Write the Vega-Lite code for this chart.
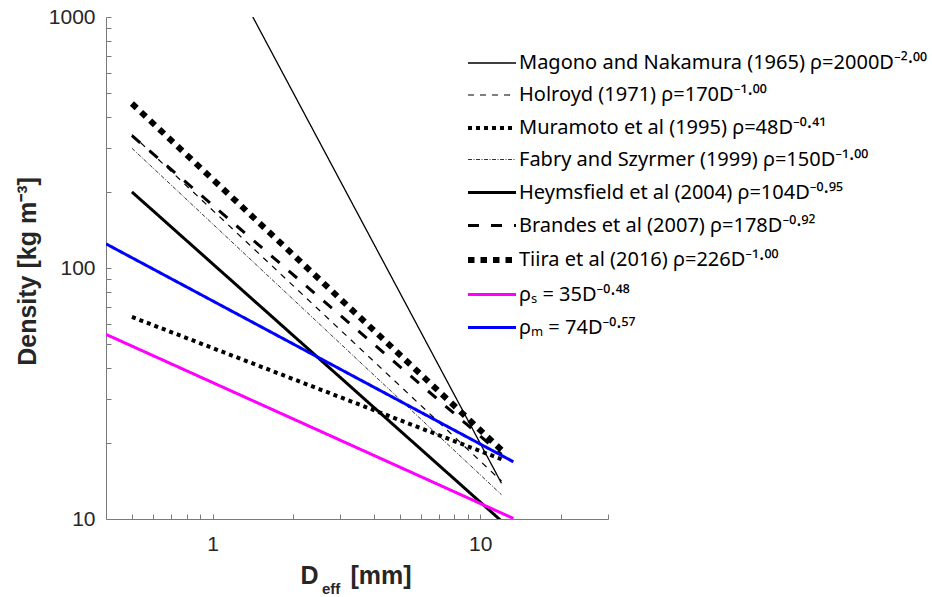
{
  "$schema": "https://vega.github.io/schema/vega-lite/v6.json",
  "width": 502,
  "height": 502,
  "autosize": "none",
  "padding": {"left": 106, "top": 17, "right": 324, "bottom": 78},
  "background": "white",
  "config": {
    "view": {"stroke": null},
    "font": "Liberation Sans",
    "axis": {
      "grid": false,
      "domainColor": "#7a7a7a",
      "tickColor": "#7a7a7a",
      "tickSize": -5,
      "tickWidth": 1,
      "labelFont": "Liberation Sans",
      "labelFontSize": 21,
      "labelColor": "#262626",
      "titleFont": "Liberation Sans",
      "titleFontSize": 25,
      "titleFontWeight": "bold",
      "titleColor": "#262626"
    }
  },
  "title": {
    "text": "eff",
    "orient": "bottom",
    "anchor": "start",
    "frame": "group",
    "dx": 216,
    "offset": -6,
    "fontSize": 15,
    "fontWeight": "bold",
    "font": "Liberation Sans",
    "color": "#262626"
  },
  "data": {
    "values": [
      {"series": "Magono and Nakamura (1965) ρ=2000D⁻²·⁰⁰", "D": 1.414, "rho": 1000},
      {"series": "Magono and Nakamura (1965) ρ=2000D⁻²·⁰⁰", "D": 12, "rho": 13.89},
      {"series": "Holroyd (1971) ρ=170D⁻¹·⁰⁰", "D": 0.5, "rho": 340},
      {"series": "Holroyd (1971) ρ=170D⁻¹·⁰⁰", "D": 12, "rho": 14.17},
      {"series": "Muramoto et al (1995) ρ=48D⁻⁰·⁴¹", "D": 0.5, "rho": 63.8},
      {"series": "Muramoto et al (1995) ρ=48D⁻⁰·⁴¹", "D": 12, "rho": 17.3},
      {"series": "Fabry and Szyrmer (1999) ρ=150D⁻¹·⁰⁰", "D": 0.5, "rho": 300},
      {"series": "Fabry and Szyrmer (1999) ρ=150D⁻¹·⁰⁰", "D": 12, "rho": 12.5},
      {"series": "Heymsfield et al (2004) ρ=104D⁻⁰·⁹⁵", "D": 0.5, "rho": 200.9},
      {"series": "Heymsfield et al (2004) ρ=104D⁻⁰·⁹⁵", "D": 12, "rho": 9.82},
      {"series": "Brandes et al (2007) ρ=178D⁻⁰·⁹²", "D": 0.5, "rho": 336.8},
      {"series": "Brandes et al (2007) ρ=178D⁻⁰·⁹²", "D": 12, "rho": 18.1},
      {"series": "Tiira et al (2016) ρ=226D⁻¹·⁰⁰", "D": 0.5, "rho": 452},
      {"series": "Tiira et al (2016) ρ=226D⁻¹·⁰⁰", "D": 12, "rho": 18.83},
      {"series": "ρₛ = 35D⁻⁰·⁴⁸", "D": 0.4, "rho": 54.4},
      {"series": "ρₛ = 35D⁻⁰·⁴⁸", "D": 13.3, "rho": 10.05},
      {"series": "ρₘ = 74D⁻⁰·⁵⁷", "D": 0.4, "rho": 124.8},
      {"series": "ρₘ = 74D⁻⁰·⁵⁷", "D": 13.3, "rho": 16.9}
    ]
  },
  "mark": {"type": "line", "clip": true, "strokeCap": "butt"},
  "encoding": {
    "x": {
      "field": "D",
      "type": "quantitative",
      "scale": {"type": "log", "domain": [0.4, 30], "nice": false},
      "axis": {
        "values": [0.5, 0.6, 0.7, 0.8, 0.9, 1, 2, 3, 4, 5, 6, 7, 8, 9, 10, 20, 30],
        "labelExpr": "datum.value == 1 || datum.value == 10 ? '' + datum.value : ''",
        "labelPadding": 19,
        "labelBaseline": "top",
        "labelFlush": false,
        "title": "D\u2003 [mm]",
        "titleAlign": "left",
        "titleAnchor": "start",
        "titleX": 194,
        "titleY": 64,
        "titleBaseline": "alphabetic"
      }
    },
    "y": {
      "field": "rho",
      "type": "quantitative",
      "scale": {"type": "log", "domain": [10, 1000], "nice": false},
      "axis": {
        "values": [10, 20, 30, 40, 50, 60, 70, 80, 90, 100, 200, 300, 400, 500, 600, 700, 800, 900, 1000],
        "labelExpr": "datum.value == 10 || datum.value == 100 || datum.value == 1000 ? '' + datum.value : ''",
        "labelPadding": 16,
        "labelFlush": false,
        "title": "Density [kg m⁻³]",
        "titleAngle": -90,
        "titleAlign": "center",
        "titleBaseline": "alphabetic",
        "titleX": -71,
        "titleY": 254
      }
    },
    "color": {
      "field": "series",
      "type": "nominal",
      "scale": {
        "domain": [
          "Magono and Nakamura (1965) ρ=2000D⁻²·⁰⁰",
          "Holroyd (1971) ρ=170D⁻¹·⁰⁰",
          "Muramoto et al (1995) ρ=48D⁻⁰·⁴¹",
          "Fabry and Szyrmer (1999) ρ=150D⁻¹·⁰⁰",
          "Heymsfield et al (2004) ρ=104D⁻⁰·⁹⁵",
          "Brandes et al (2007) ρ=178D⁻⁰·⁹²",
          "Tiira et al (2016) ρ=226D⁻¹·⁰⁰",
          "ρₛ = 35D⁻⁰·⁴⁸",
          "ρₘ = 74D⁻⁰·⁵⁷"
        ],
        "range": ["#000000", "#000000", "#000000", "#000000", "#000000", "#000000", "#000000", "#ff00ff", "#0000ff"]
      },
      "legend": {
        "title": null,
        "orient": "none",
        "legendX": 359,
        "legendY": 33,
        "padding": 0,
        "symbolType": "M-2,0H2",
        "symbolSize": 576,
        "symbolOffset": 12,
        "symbolFillColor": "transparent",
        "labelFontSize": 20,
        "labelFont": "Noto Sans",
        "labelColor": "#000000",
        "labelLimit": 600,
        "labelOffset": 12,
        "rowPadding": 9
      }
    },
    "strokeDash": {
      "field": "series",
      "type": "nominal",
      "scale": {
        "domain": [
          "Magono and Nakamura (1965) ρ=2000D⁻²·⁰⁰",
          "Holroyd (1971) ρ=170D⁻¹·⁰⁰",
          "Muramoto et al (1995) ρ=48D⁻⁰·⁴¹",
          "Fabry and Szyrmer (1999) ρ=150D⁻¹·⁰⁰",
          "Heymsfield et al (2004) ρ=104D⁻⁰·⁹⁵",
          "Brandes et al (2007) ρ=178D⁻⁰·⁹²",
          "Tiira et al (2016) ρ=226D⁻¹·⁰⁰",
          "ρₛ = 35D⁻⁰·⁴⁸",
          "ρₘ = 74D⁻⁰·⁵⁷"
        ],
        "range": [[1, 0], [6, 6], [4, 4], [4, 1.5, 1, 1.5], [1, 0], [11, 12], [6.5, 6], [1, 0], [1, 0]]
      }
    },
    "strokeWidth": {
      "field": "series",
      "type": "ordinal",
      "scale": {
        "type": "ordinal",
        "domain": [
          "Magono and Nakamura (1965) ρ=2000D⁻²·⁰⁰",
          "Holroyd (1971) ρ=170D⁻¹·⁰⁰",
          "Muramoto et al (1995) ρ=48D⁻⁰·⁴¹",
          "Fabry and Szyrmer (1999) ρ=150D⁻¹·⁰⁰",
          "Heymsfield et al (2004) ρ=104D⁻⁰·⁹⁵",
          "Brandes et al (2007) ρ=178D⁻⁰·⁹²",
          "Tiira et al (2016) ρ=226D⁻¹·⁰⁰",
          "ρₛ = 35D⁻⁰·⁴⁸",
          "ρₘ = 74D⁻⁰·⁵⁷"
        ],
        "range": [1.3, 1.2, 4, 0.8, 3, 3, 6, 3, 3]
      }
    }
  }
}
